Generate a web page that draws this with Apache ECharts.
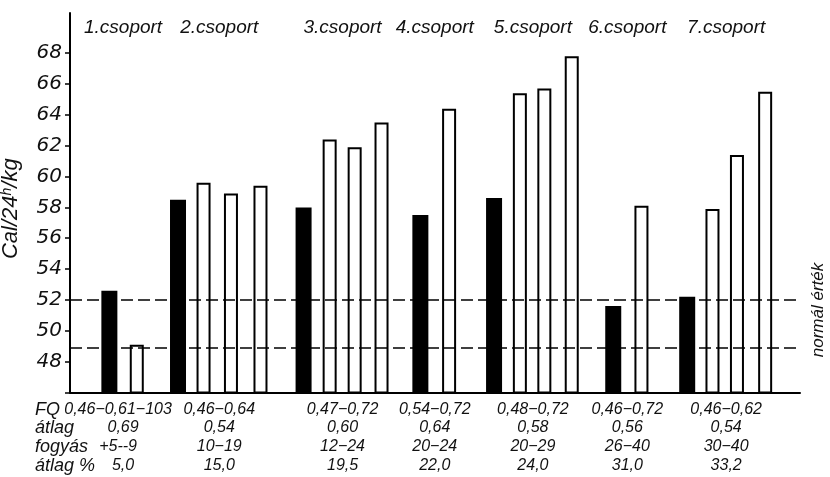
<!DOCTYPE html>
<html>
<head>
<meta charset="utf-8">
<script src="https://cdn.jsdelivr.net/npm/echarts@6/dist/echarts.min.js"></script>
<style>
  html, body { margin: 0; padding: 0; background: #fff; }
  #chart { width: 830px; height: 477px; }
</style>
</head>
<body>
<div id="chart"></div>
<script>
// Energy intake (Cal / 24h / kg) in seven patient groups.
// Black bar: starting value of the group, white bars: later measurements.

const groupNames = ['1.csoport', '2.csoport', '3.csoport', '4.csoport', '5.csoport', '6.csoport', '7.csoport'];

// positions along the horizontal axis, in bar-pitch units
const blackX = [1.48, 4.06, 8.78, 13.17, 15.94, 20.42, 23.20];
const blackValues = [52.6, 58.5, 58.0, 57.5, 58.6, 51.6, 52.2];

const whiteX = [2.51, 5.02, 6.05, 7.16, 9.76, 10.70, 11.71, 14.25, 16.91, 17.83, 18.86, 21.48, 24.15, 25.07, 26.13];
const whiteValues = [49.1, 59.6, 58.9, 59.4, 62.4, 61.9, 63.5, 64.4, 65.4, 65.7, 67.8, 58.1, 57.9, 61.4, 65.5];
const whiteGroup = [0, 1, 1, 1, 2, 2, 2, 3, 4, 4, 4, 5, 6, 6, 6];

// normal range (dashed lines)
const normalBand = [48.9, 52];

const yTicks = [46, 48, 50, 52, 54, 56, 58, 60, 62, 64, 66, 68];
const yLabels = [48, 50, 52, 54, 56, 58, 60, 62, 64, 66, 68];

// table under the chart
const rowLabels = ['FQ', 'átlag', 'fogyás', 'átlag %'];
const fqRange = ['0,46−0,61−103', '0,46−0,64', '0,47−0,72', '0,54−0,72', '0,48−0,72', '0,46−0,72', '0,46−0,62'];
const fqMean = ['0,69', '0,54', '0,60', '0,64', '0,58', '0,56', '0,54'];
const lossRange = ['+5--9', '10−19', '12−24', '20−24', '20−29', '26−40', '30−40'];
const lossMean = ['5,0', '15,0', '19,5', '22,0', '24,0', '31,0', '33,2'];

const INK = '#111';
const SANS = '"Liberation Sans", Arimo, Arial, sans-serif';

const xAxisBase = {
  type: 'value', min: 0, max: 27.44,
  axisTick: { show: false }, axisLabel: { show: false }, splitLine: { show: false }
};

const option = {
  animation: false,
  backgroundColor: '#fff',
  grid: { left: 70, right: 30, top: 13, bottom: 84.5, outerBoundsMode: 'none', containLabel: false },
  xAxis: [
    Object.assign({}, xAxisBase, {
      axisLine: { show: true, onZero: false, lineStyle: { color: '#000', width: 2 } }
    }),
    Object.assign({}, xAxisBase, { show: false })
  ],
  yAxis: {
    type: 'value', min: 46, max: 70.6,
    axisLine: { show: true, onZero: false, lineStyle: { color: '#000', width: 2 } },
    axisTick: { show: true, customValues: yTicks, length: 5, lineStyle: { color: '#000', width: 1.5 } },
    axisLabel: {
      customValues: yLabels, color: INK, margin: 8,
      fontFamily: '"DejaVu Sans", sans-serif', fontStyle: 'italic', fontSize: 20
    },
    splitLine: { show: false },
    name: 'Cal/24{sup|h}/kg',
    nameLocation: 'middle', nameRotate: 90, nameGap: 48,
    nameTextStyle: {
      color: INK, fontFamily: SANS, fontStyle: 'italic', fontSize: 22,
      padding: [0, 12, 0, 0],
      rich: { sup: { fontSize: 14, fontStyle: 'italic', fontFamily: SANS, color: INK, verticalAlign: 'top' } }
    }
  },
  series: [
    {
      type: 'bar', xAxisIndex: 0,
      data: blackX.map((x, i) => [x, blackValues[i]]),
      barWidth: 16,
      itemStyle: { color: '#000' }
    },
    {
      type: 'bar', xAxisIndex: 1,
      data: whiteX.map((x, i) => [x, whiteValues[i]]),
      barWidth: 14,
      itemStyle: { color: '#fff', borderColor: '#000', borderWidth: 2 },
      markLine: {
        silent: true, symbol: 'none',
        label: { show: false },
        lineStyle: { color: '#000', width: 1.5, type: [12, 5] },
        data: normalBand.map(v => ({ yAxis: v }))
      }
    }
  ]
};

const chart = echarts.init(document.getElementById('chart'));
chart.setOption(option);

// group centres derived from the bar positions
const centers = groupNames.map((_, g) => {
  const xs = [blackX[g]].concat(whiteX.filter((_, i) => whiteGroup[i] === g));
  return (Math.min.apply(null, xs) + Math.max.apply(null, xs)) / 2;
});
const cx = centers.map(c => chart.convertToPixel({ xAxisIndex: 0 }, c));

function label(text, x, y, font, align) {
  return {
    type: 'text', x: x, y: y, silent: true, z: 10,
    style: { text: text, font: font, fill: INK, align: align, verticalAlign: 'middle' }
  };
}

const titleFont = 'italic 19px ' + SANS;
const rowFont = 'italic 18px ' + SANS;
const valueFont = 'italic 16px ' + SANS;
const rowY = [409.5, 428, 447, 466];
const rows = [fqRange, fqMean, lossRange, lossMean];

const graphics = [];
groupNames.forEach((name, g) => graphics.push(label(name, cx[g], 28, titleFont, 'center')));
rowLabels.forEach((t, r) => graphics.push(label(t, 35, rowY[r], rowFont, 'left')));
rows.forEach((row, r) => row.forEach((t, g) => {
  // the first group's wide entries sit a little to the left
  const shift = (g === 0 && (r === 0 || r === 2)) ? -5 : 0;
  graphics.push(label(t, cx[g] + shift, rowY[r], valueFont, 'center'));
}));
graphics.push(Object.assign(label('normál érték', 818, 310, 'italic 17px ' + SANS, 'center'), { rotation: Math.PI / 2 }));

chart.setOption({ graphic: graphics });
</script>
</body>
</html>
